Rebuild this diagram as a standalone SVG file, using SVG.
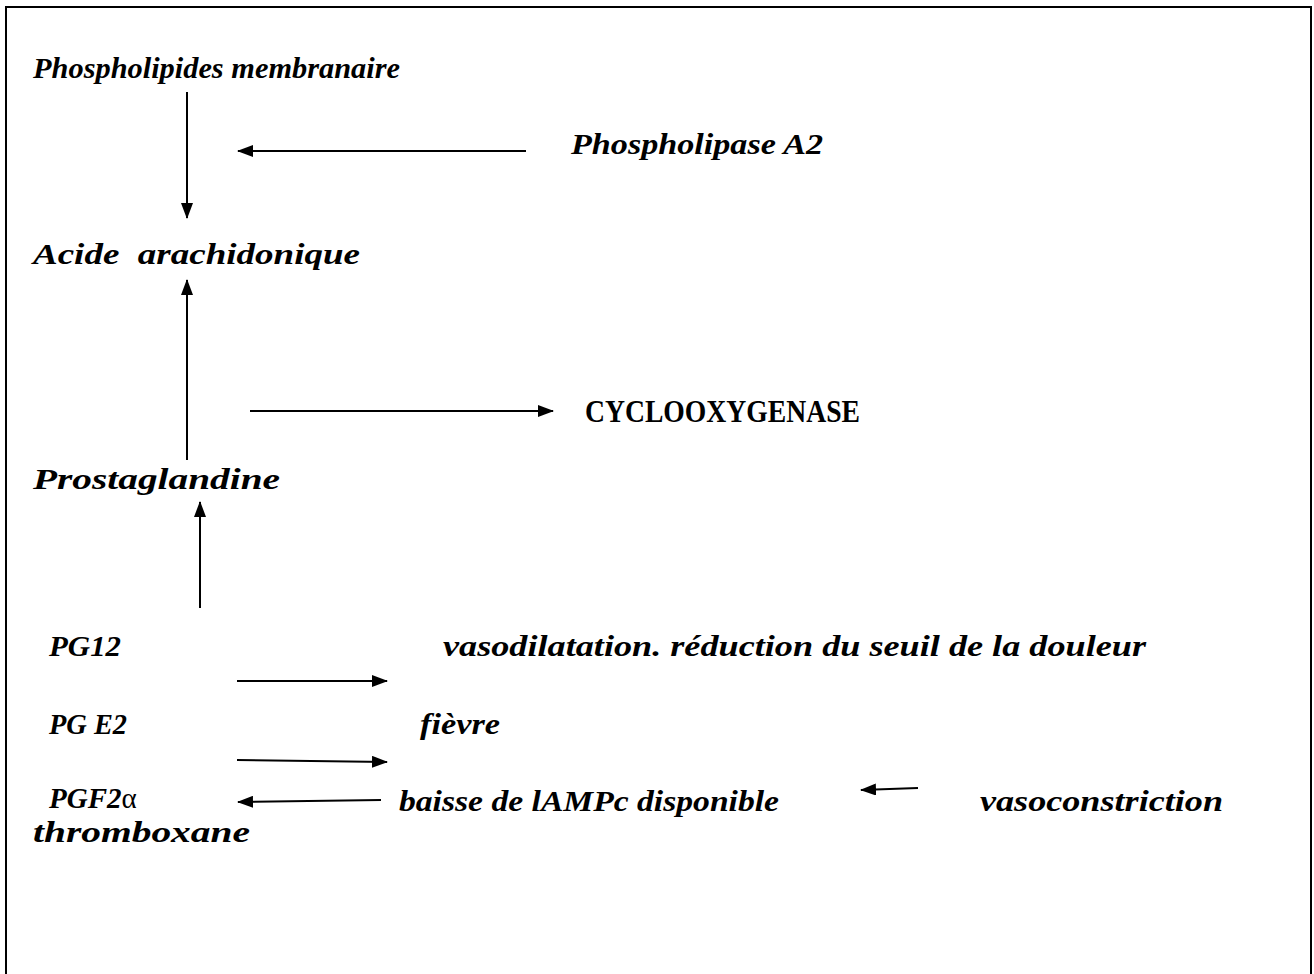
<svg xmlns="http://www.w3.org/2000/svg" width="1314" height="974" viewBox="0 0 1314 974">
<style>
.t{font-family:"Liberation Serif","DejaVu Serif",serif;font-weight:bold;font-style:italic;font-size:29px;fill:#000}
.u{font-family:"Liberation Serif","DejaVu Serif",serif;font-weight:bold;font-size:31px;fill:#000}
.g{font-style:normal;font-weight:normal}
.c{stroke:#000;stroke-width:2;fill:none;marker-end:url(#ah)}
</style>
<defs>
<marker id="ah" markerUnits="userSpaceOnUse" markerWidth="16" markerHeight="12" refX="15" refY="6" orient="auto">
<path d="M0,0 L16,6 L0,12 Z" fill="#000"/>
</marker>
</defs>
<rect width="1314" height="974" fill="#fff"/>
<path d="M6,980 V7 H1311 V980" fill="none" stroke="#000" stroke-width="2"/>
<g id="connectors">
<line class="c" x1="187" y1="92" x2="187" y2="218"/>
<line class="c" x1="526" y1="151" x2="238" y2="151"/>
<line class="c" x1="187" y1="460" x2="187" y2="280"/>
<line class="c" x1="250" y1="411" x2="553" y2="411"/>
<line class="c" x1="200" y1="608" x2="200" y2="502"/>
<line class="c" x1="237" y1="681" x2="387" y2="681"/>
<line class="c" x1="237" y1="760" x2="387" y2="762"/>
<line class="c" x1="381" y1="800" x2="238" y2="802"/>
<line class="c" x1="918" y1="788" x2="861" y2="790"/>
</g>
<g id="n1"><text class="t" x="33" y="78" font-size="30" textLength="367" lengthAdjust="spacingAndGlyphs">Phospholipides membranaire</text></g>
<g id="n2"><text class="t" x="571" y="154" textLength="252" lengthAdjust="spacingAndGlyphs">Phospholipase A2</text></g>
<g id="n3"><text class="t" x="33" y="264" textLength="327" lengthAdjust="spacingAndGlyphs" xml:space="preserve">Acide  arachidonique</text></g>
<g id="n4"><text class="u" x="585" y="422" textLength="275" lengthAdjust="spacingAndGlyphs">CYCLOOXYGENASE</text></g>
<g id="n5"><text class="t" x="33" y="489" textLength="247" lengthAdjust="spacingAndGlyphs">Prostaglandine</text></g>
<g id="n6"><text class="t" x="49" y="656" textLength="72" lengthAdjust="spacingAndGlyphs">PG12</text></g>
<g id="n7"><text class="t" x="443" y="656" textLength="703" lengthAdjust="spacingAndGlyphs">vasodilatation. réduction du seuil de la douleur</text></g>
<g id="n8"><text class="t" x="49" y="734" textLength="78" lengthAdjust="spacingAndGlyphs">PG E2</text></g>
<g id="n9"><text class="t" x="420" y="734" textLength="80" lengthAdjust="spacingAndGlyphs">fièvre</text></g>
<g id="n10"><text class="t" x="49" y="808">PGF2<tspan class="g">α</tspan></text>
<text class="t" x="33" y="842" textLength="217" lengthAdjust="spacingAndGlyphs">thromboxane</text></g>
<g id="n11"><text class="t" x="399" y="811" textLength="380" lengthAdjust="spacingAndGlyphs">baisse de lAMPc disponible</text></g>
<g id="n12"><text class="t" x="980" y="811" textLength="243" lengthAdjust="spacingAndGlyphs">vasoconstriction</text></g>
</svg>
